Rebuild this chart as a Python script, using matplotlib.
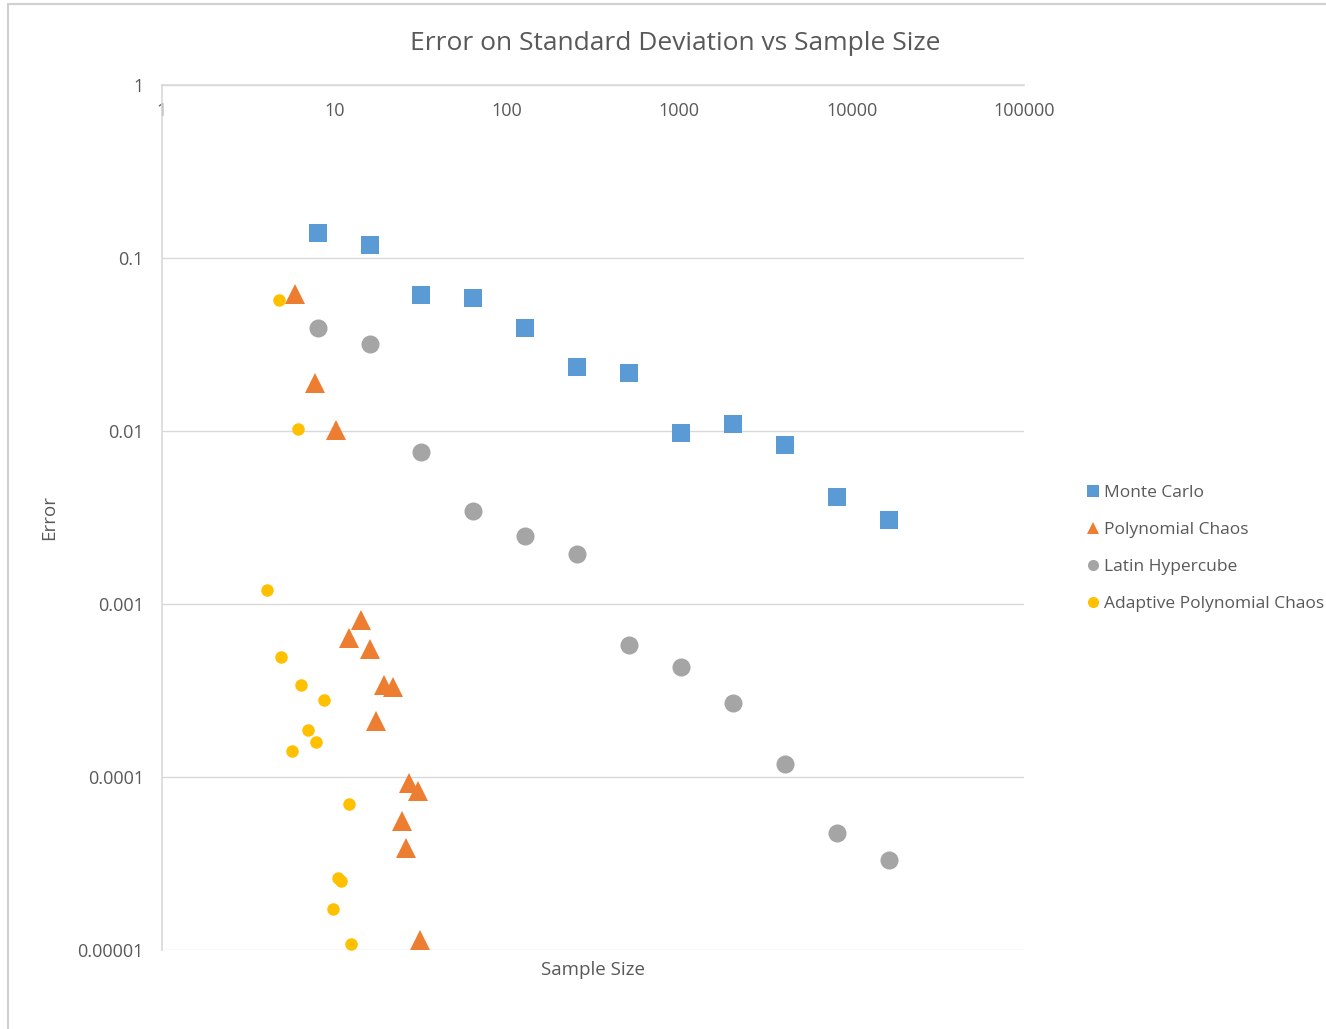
import matplotlib.pyplot as plt
from matplotlib.patches import Rectangle
from matplotlib.ticker import FixedLocator, NullLocator

plt.rcParams['font.family'] = ['Open Sans', 'DejaVu Sans']

# Monte Carlo
mc_n = [8, 16, 32, 64, 128, 256, 512, 1024, 2048, 4096, 8192, 16384]
mc_err = [0.14, 0.119, 0.061, 0.0587, 0.0394, 0.0234, 0.0216, 0.00973, 0.011, 0.0083, 0.00415, 0.00306]

# Polynomial Chaos
pc_n = [5.9, 7.7, 10.2, 14.3, 12.2, 16.1, 19.4, 21.9, 17.4, 27.1, 30.5, 24.7, 26.0, 31.4]
pc_err = [0.0619, 0.0189, 0.0101, 0.00081, 0.000636, 0.000549, 0.00034, 0.000331,
          0.000211, 0.0000923, 0.000083, 0.0000557, 0.0000389, 0.0000114]

# Latin Hypercube
lh_n = [8, 16, 32, 64, 128, 256, 512, 1024, 2048, 4096, 8192, 16384]
lh_err = [0.0394, 0.0318, 0.00756, 0.00345, 0.00247, 0.00195, 0.00058, 0.000432,
          0.000268, 0.000119, 0.0000474, 0.0000331]

# Adaptive Polynomial Chaos
apc_n = [4.77, 6.15, 4.06, 4.9, 6.4, 8.7, 7.03, 7.82, 5.68, 12.2, 10.5, 10.9, 9.82, 12.5]
apc_err = [0.0572, 0.0103, 0.0012, 0.000494, 0.00034, 0.000279, 0.000187, 0.000159,
           0.000141, 0.0000698, 0.0000261, 0.0000251, 0.0000173, 0.0000108]

x_ticks = [1, 10, 100, 1000, 10000, 100000]
y_ticks = [0.00001, 0.0001, 0.001, 0.01, 0.1, 1]
y_labels = ['0.00001', '0.0001', '0.001', '0.01', '0.1', '1']

txt = '#595959'
grid = '#D9D9D9'

fig = plt.figure(figsize=(13.26, 10.29), dpi=100)
ax = fig.add_axes([162/1326, 1-950/1029, (1024-162)/1326, (950-85)/1029])

# chart area border
fig.patches.append(Rectangle((8/1326, -0.1), 1.2, 1.1-4/1029, transform=fig.transFigure,
                             fill=False, edgecolor='#D0D0D0', linewidth=1.5))

ax.plot(mc_n, mc_err, 's', color='#5B9BD5', ms=13, mew=0, label='Monte Carlo', clip_on=False)
ax.plot(pc_n, pc_err, '^', color='#ED7D31', ms=14, mew=0, label='Polynomial Chaos', clip_on=False)
ax.plot(lh_n, lh_err, 'o', color='#A5A5A5', ms=13, mew=0, label='Latin Hypercube', clip_on=False)
ax.plot(apc_n, apc_err, 'o', color='#FFC000', ms=9, mew=0, label='Adaptive Polynomial Chaos', clip_on=False)

ax.set_xscale('log')
ax.set_yscale('log')
ax.set_xlim(1, 100000)
ax.set_ylim(0.00001, 1)

ax.xaxis.set_major_locator(FixedLocator(x_ticks))
ax.xaxis.set_minor_locator(NullLocator())
ax.set_xticklabels([str(v) for v in x_ticks])
ax.yaxis.set_major_locator(FixedLocator(y_ticks))
ax.yaxis.set_minor_locator(NullLocator())
ax.set_yticklabels(y_labels)

# x labels sit just under the top axis line, like Excel does
ax.xaxis.set_ticks_position('top')
ax.tick_params(axis='x', length=0, labeltop=True, labelbottom=False, pad=-25.5,
               labelsize=13, labelcolor=txt)
ax.tick_params(axis='y', length=0, pad=13, labelsize=13, labelcolor=txt)

ax.grid(axis='y', color=grid, linewidth=1)
ax.set_axisbelow(True)
for side in ['right', 'bottom']:
    ax.spines[side].set_visible(False)
ax.spines['top'].set_color(grid)
ax.spines['left'].set_color(grid)
ax.spines['top'].set_linewidth(1.2)
ax.spines['left'].set_linewidth(1.2)

fig.text(675/1326, 1-43/1029, 'Error on Standard Deviation vs Sample Size',
         fontsize=19, color=txt, ha='center', va='center')
ax.set_xlabel('Sample Size', fontsize=13.5, color=txt, labelpad=8)
ax.set_ylabel('Error', fontsize=13.5, color=txt, labelpad=14)

leg = ax.legend(loc='upper left', bbox_to_anchor=(1087/1326, 1-485/1029),
                bbox_transform=fig.transFigure, frameon=False, fontsize=12.5,
                labelcolor=txt, handlelength=0.7, handletextpad=0.3, labelspacing=1.2,
                borderpad=0, borderaxespad=0)
for h in leg.legend_handles:
    h.set_markersize(8)

fig.savefig('out.png', dpi=100)
